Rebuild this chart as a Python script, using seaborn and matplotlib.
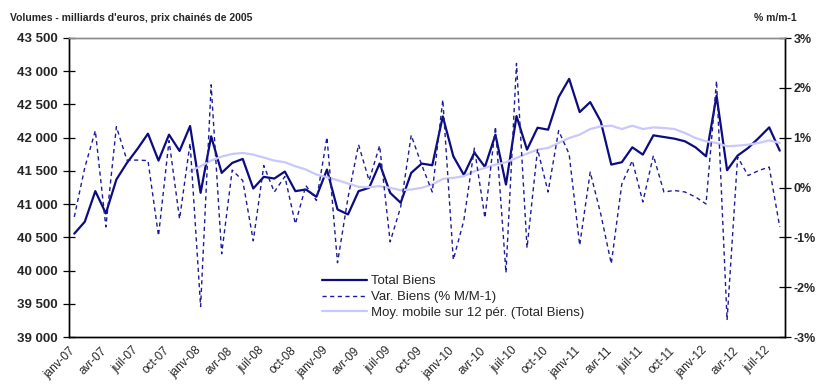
"""Total Biens volumes, monthly change and 12-month moving average"""
import numpy as np
import matplotlib
matplotlib.use("Agg")
import matplotlib.pyplot as plt
from matplotlib.ticker import FixedLocator, FuncFormatter
import seaborn as sns

# monthly data, janv-07 .. août-12
total_biens = [40555, 40735, 41195, 40860, 41370, 41620, 41830, 42060, 41655, 42045, 41800, 42175,
               41170, 42020, 41470, 41620, 41680, 41235, 41410, 41385, 41490, 41195, 41220, 41110,
               41520, 40920, 40845, 41195, 41245, 41610, 41170, 41020, 41470, 41610, 41585, 42320,
               41720, 41440, 41775, 41560, 42045, 41295, 42325, 41820, 42150, 42120, 42610, 42885,
               42385, 42535, 42245, 41595, 41630, 41855, 41745, 42035, 42010, 41985, 41945, 41855,
               41720, 42630, 41510, 41730, 41845, 41995, 42155, 41805]
var_biens = [-0.59, 0.40, 1.14, -0.79, 1.22, 0.55, 0.55, 0.54, -0.97, 0.94, -0.63, 0.89,
             -2.39, 2.06, -1.33, 0.35, 0.14, -1.07, 0.44, -0.09, 0.22, -0.73, 0.04, -0.26,
             1.01, -1.51, -0.20, 0.86, 0.14, 0.84, -1.09, -0.39, 1.05, 0.45, -0.09, 1.76,
             -1.45, -0.66, 0.79, -0.61, 1.22, -1.71, 2.49, -1.21, 0.77, -0.09, 1.14, 0.67,
             -1.16, 0.31, -0.53, -1.53, 0.07, 0.54, -0.29, 0.64, -0.09, -0.06, -0.09, -0.19,
             -0.33, 2.14, -2.66, 0.61, 0.24, 0.34, 0.41, -0.79]
# moving average starts in déc-07 (month index 11)
moy_mobile = [41495, 41570, 41655, 41715, 41755, 41770, 41745, 41700, 41655, 41630, 41570, 41520,
              41445, 41405, 41360, 41310, 41260, 41255, 41270, 41245, 41210, 41220, 41245, 41295,
              41380, 41395, 41420, 41495, 41545, 41595, 41630, 41695, 41760, 41820, 41845, 41920,
              41995, 42045, 42130, 42170, 42180, 42130, 42180, 42130, 42155, 42145, 42130, 42070,
              41995, 41945, 41920, 41870, 41880, 41895, 41920, 41960, 41920]
month_labels = ['janv-07', 'avr-07', 'juil-07', 'oct-07', 'janv-08', 'avr-08', 'juil-08', 'oct-08',
                'janv-09', 'avr-09', 'juil-09', 'oct-09', 'janv-10', 'avr-10', 'juil-10', 'oct-10',
                'janv-11', 'avr-11', 'juil-11', 'oct-11', 'janv-12', 'avr-12', 'juil-12']


def main():
    sns.set_theme(style="white")
    plt.rcParams['font.family'] = ['Liberation Sans Narrow', 'Liberation Sans', 'DejaVu Sans']

    n = len(total_biens)
    x = np.arange(n)
    x_ma = np.arange(n - len(moy_mobile), n)

    fig = plt.figure(figsize=(8.16, 3.89), dpi=100)
    ax = fig.add_axes([69 / 816, 1 - 337 / 389, (785 - 69) / 816, (337 - 38) / 389])
    ax2 = ax.twinx()

    sns.lineplot(x=x, y=total_biens, ax=ax, color="#0c0c80", linewidth=1.6, label="Total Biens")
    sns.lineplot(x=x_ma, y=moy_mobile, ax=ax, color="#c8c8fa", linewidth=1.6,
                 label="Moy. mobile sur 12 pér. (Total Biens)")
    sns.lineplot(x=x, y=var_biens, ax=ax2, color="#1c1c98", linewidth=1.0,
                 linestyle=(0, (3, 2.5)), label="Var. Biens (% M/M-1)")

    ax.set_xlim(-0.5, n - 0.5)
    ax.set_ylim(39000, 43500)
    ax2.set_ylim(-3, 3)

    ax.yaxis.set_major_locator(FixedLocator(np.arange(39000, 43501, 500)))
    ax.yaxis.set_major_formatter(FuncFormatter(lambda v, p: f"{v:,.0f}".replace(",", " ")))
    ax2.yaxis.set_major_locator(FixedLocator(np.arange(-3, 3.1, 1)))
    ax2.yaxis.set_major_formatter(FuncFormatter(lambda v, p: f"{v:.0f}%"))

    # tick marks at every month boundary, label every quarter
    bounds = np.arange(-0.5, n, 1.0)
    labels = [''] * len(bounds)
    for k, lab in enumerate(month_labels):
        labels[3 * k] = lab
    ax.set_xticks(bounds)
    ax.set_xticklabels(labels, rotation=45, ha='right', va='top', rotation_mode='anchor',
                       fontsize=8.5)
    ax.tick_params(axis='x', direction='inout', length=7, width=0.9, color='black', pad=2)
    ax.tick_params(axis='y', direction='inout', length=8, width=0.9, color='black', pad=4,
                   labelsize=9.5)
    ax2.tick_params(axis='y', direction='inout', length=8, width=0.9, color='black', pad=2,
                    labelsize=9)
    for t in ax.get_yticklabels() + ax2.get_yticklabels():
        t.set_fontweight('bold')

    ax.grid(False)
    ax2.grid(False)
    for a in (ax, ax2):
        for s in a.spines.values():
            s.set_color('black')
            s.set_linewidth(1.0)
        a.spines['top'].set_color('#8c8c8c')

    ax.set_xlabel('')
    ax.set_ylabel('')
    ax2.set_ylabel('')

    h1, l1 = ax.get_legend_handles_labels()
    h2, l2 = ax2.get_legend_handles_labels()
    ax.get_legend().remove()
    ax2.get_legend().remove()
    handles = [h1[0], h2[0], h1[1]]
    names = [l1[0], l2[0], l1[1]]
    fig.legend(handles, names, loc='upper left', bbox_to_anchor=(322 / 816, 1 - 275 / 389),
               frameon=False, fontsize=9.5, handlelength=3.4, handletextpad=0.3,
               labelspacing=0.28, borderaxespad=0, borderpad=0)

    fig.text(10 / 816, 1 - 18 / 389, "Volumes - milliards d'euros, prix chainés de 2005",
             fontsize=7.5, fontweight='bold', va='center', ha='left')
    fig.text(797 / 816, 1 - 18 / 389, "% m/m-1", fontsize=7.5, fontweight='bold',
             va='center', ha='right')

    fig.savefig("out.png", dpi=100)


if __name__ == '__main__':
    main()
